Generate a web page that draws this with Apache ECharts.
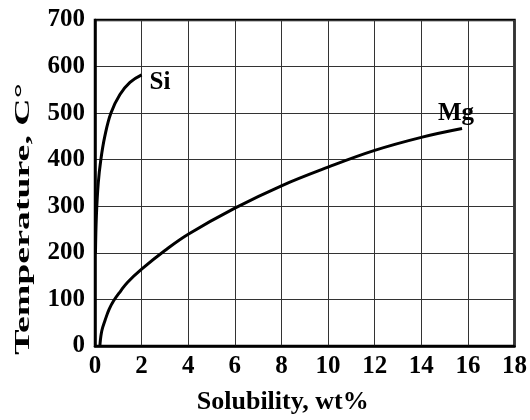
<!DOCTYPE html>
<html>
<head>
<meta charset="utf-8">
<script src="https://cdn.jsdelivr.net/npm/echarts@6/dist/echarts.min.js"></script>
<style>
  html, body { margin: 0; padding: 0; background: #fff; }
  #chart { width: 530px; height: 420px; }
</style>
</head>
<body>
<div id="chart"></div>
<script>
// solubility curves: [wt%, °C]
var siCurve = [[0.02, 200], [0.06, 280], [0.14, 350], [0.25, 400], [0.42, 450],
               [0.68, 500], [1.07, 540], [1.5, 566], [2.0, 582]];
var mgCurve = [[0.21, 0], [0.23, 12], [0.27, 27], [0.33, 40], [0.43, 55], [0.6, 78],
               [0.8, 97], [1.1, 118], [1.4, 137], [2, 165], [3, 205], [4, 240],
               [6, 296], [8, 344], [10, 384], [12, 420], [14, 448], [15.75, 467]];
var seriesNames = ['Si', 'Mg'];

var font = '"Liberation Serif", "Times New Roman", serif';
var myChart = echarts.init(document.getElementById('chart'));
var option = {
  animation: false,
  grid: {
    left: 95, right: 13, top: 20, bottom: 72,
    show: true, borderColor: '#000', borderWidth: 2.5
  },
  xAxis: {
    type: 'value', min: 0, max: 18, interval: 2,
    name: 'Solubility, wt%', nameLocation: 'middle', nameGap: 43,
    nameTextStyle: { fontFamily: font, fontWeight: 'bold', fontSize: 26, color: '#000', padding: [0, 44, 0, 0] },
    axisLine: { lineStyle: { color: '#000', width: 2.5 } },
    axisTick: { show: false },
    axisLabel: { fontFamily: font, fontWeight: 'bold', fontSize: 25, color: '#000', margin: 8 },
    splitLine: { lineStyle: { color: '#333', width: 1 } }
  },
  yAxis: {
    type: 'value', min: 0, max: 700, interval: 100,
    axisLine: { show: true, lineStyle: { color: '#000', width: 2.5 } },
    axisTick: { show: false },
    axisLabel: { fontFamily: font, fontWeight: 'bold', fontSize: 25, color: '#000', margin: 10 },
    splitLine: { lineStyle: { color: '#333', width: 1 } }
  },
  graphic: [{
    type: 'text', x: 23, y: 219, rotation: Math.PI / 2, scaleX: 1.72,
    style: {
      text: 'Temperature, C°', fontFamily: font, fontWeight: 'bold', fontSize: 22,
      fill: '#000', align: 'center', verticalAlign: 'middle'
    }
  }],
  series: [
    {
      name: seriesNames[0], type: 'line', data: siCurve, smooth: 0.4,
      showSymbol: false, lineStyle: { color: '#000', width: 3 },
      endLabel: {
        show: true, formatter: '{a}', distance: 0, offset: [8, 8],
        fontFamily: font, fontWeight: 'bold', fontSize: 25, color: '#000'
      }
    },
    {
      name: seriesNames[1], type: 'line', data: mgCurve, smooth: 0.4,
      showSymbol: false, lineStyle: { color: '#000', width: 3 },
      endLabel: {
        show: true, formatter: '{a}', distance: 0, offset: [-6, -15], align: 'center',
        fontFamily: font, fontWeight: 'bold', fontSize: 25, color: '#000'
      }
    }
  ]
};
myChart.setOption(option);
</script>
</body>
</html>
